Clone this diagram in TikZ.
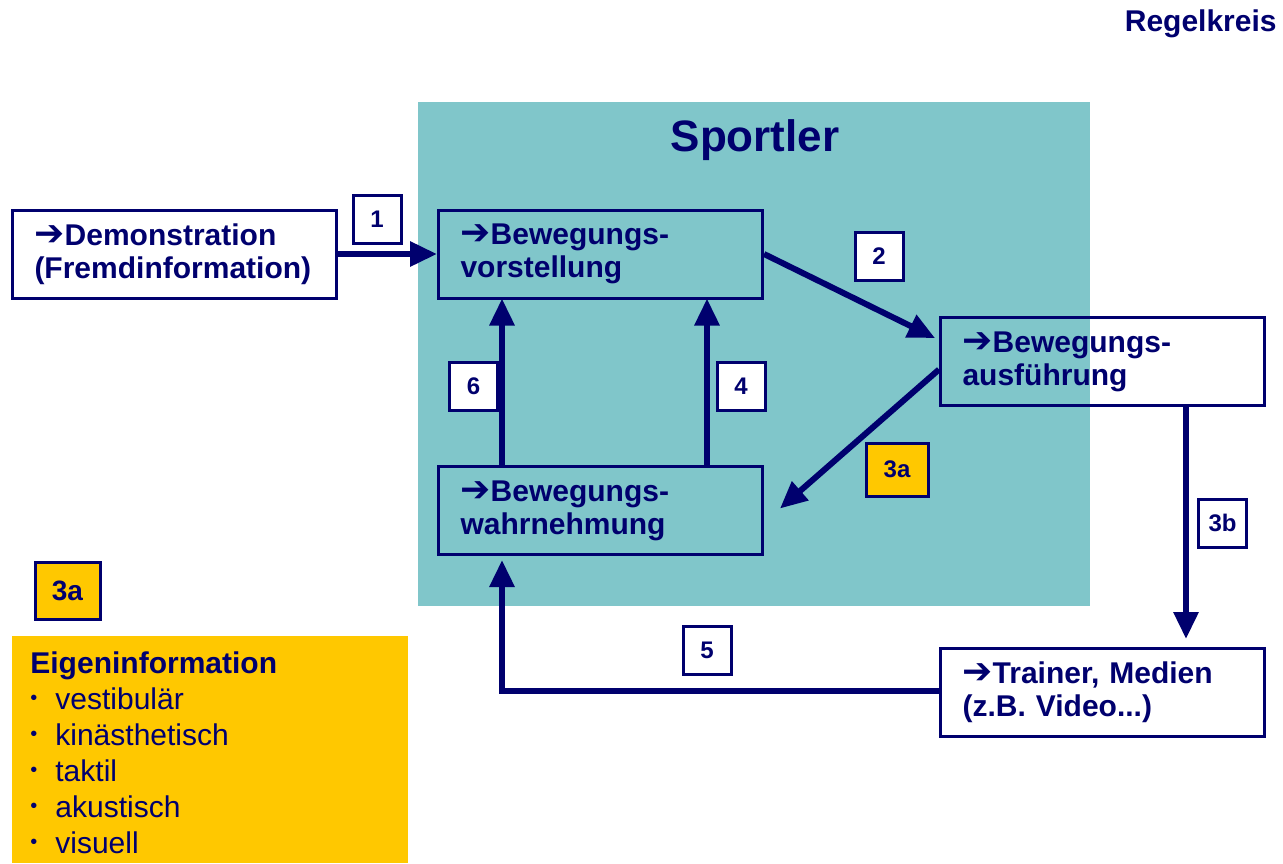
\documentclass[tikz,border=0pt]{standalone}
\usepackage{fontspec}
\setmainfont{Liberation Sans}
\newfontfamily\arrowfont{DejaVu Sans}
\usetikzlibrary{arrows.meta, calc}

\definecolor{navy}{RGB}{0,0,110}
\definecolor{teal2}{RGB}{128,198,202}
\definecolor{gold}{RGB}{255,200,0}
\newcommand{\ra}{{\arrowfont\bfseries\fontsize{18}{16.5}\selectfont ➔}}

\begin{document}
\begin{tikzpicture}[x=0.5pt, y=-0.5pt,
    stepbox/.style={draw=navy, line width=1.5pt, fill=white, text=navy, align=left,
        text width=140pt, inner xsep=11pt, minimum height=44pt,
        font=\fontsize{15}{16.5}\selectfont\bfseries},
    numbox/.style={draw=navy, line width=1.5pt, fill=white, text=navy,
        minimum size=24pt, inner sep=0pt, font=\fontsize{12}{12}\selectfont\bfseries},
    flow/.style={draw=navy, line width=3pt, -{Triangle[length=13.5pt, width=12pt]}}]
    \useasboundingbox (0,0) rectangle (1283,863);

    % Sportler area
    \fill[teal2] (418,102) rectangle (1090,606);
    \node[text=navy, font=\fontsize{22}{22}\selectfont\bfseries] (sportler) at (755,140) {Sportler};
    \node[text=navy, font=\fontsize{15}{15}\selectfont\bfseries, anchor=base east, inner sep=0pt] (title) at (1277,31) {Regelkreis};

    % Boxes
    \node[stepbox] (demo) at (174.5,254) {\ra Demonstration\\(Fremdinformation)};
    \node[stepbox, fill=teal2] (vorst) at (600.5,254) {\ra Bewegungs-\\vorstellung};
    \node[stepbox, fill=none] (ausf) at (1102.5,361.5) {\ra Bewegungs-\\ausführung};
    \node[stepbox, fill=teal2] (wahr) at (600.5,510.5) {\ra Bewegungs-\\wahrnehmung};
    \node[stepbox] (trainer) at (1102.5,692.5) {\ra Trainer, Medien\\(z.B. Video...)};

    % Arrows
    \draw[flow] (demo.east) -- (vorst.west);
    \draw[flow] (vorst.east) -- ($(ausf.north west)+(-4,22)$);
    \draw[flow] ($(ausf.west)+(0,8)$) -- ($(wahr.east)+(16,-2)$);
    \draw[flow] ($(wahr.north west)+(65,0)$) -- ($(vorst.south west)+(65,-1)$);
    \draw[flow] ($(wahr.north west)+(270,0)$) -- ($(vorst.south west)+(270,-1)$);
    \draw[flow] ($(ausf.south west)+(247,0)$) -- ($(trainer.north west)+(247,-8)$);
    \draw[flow] ($(trainer.west)+(0,-2)$) -| ($(wahr.south west)+(65,4)$);

    % Step numbers
    \node[numbox] (n1) at (377,219.5) {1};
    \node[numbox] (n2) at (879,256) {2};
    \node[numbox, fill=gold, minimum width=31pt, minimum height=26.5pt] (n3a) at (897,469.5) {3a};
    \node[numbox] (n6) at (473.5,386) {6};
    \node[numbox] (n4) at (741,386) {4};
    \node[numbox] (n3b) at (1222.5,523) {3b};
    \node[numbox] (n5) at (707,650) {5};

    % Eigeninformation
    \node[numbox, fill=gold, minimum width=32.5pt, minimum height=28.5pt,
        font=\fontsize{14}{14}\selectfont\bfseries] (key) at (67.5,590.5) {3a};
    \fill[gold] (12,636) rectangle (408,863);
    \node[text=navy, font=\fontsize{15}{15}\selectfont\bfseries, anchor=base west, inner sep=0pt] (eigen) at (30,673) {Eigeninformation};
    \foreach \txt [count=\i] in {vestibulär, kinästhetisch, taktil, akustisch, visuell} {
        \node[text=navy, font=\fontsize{15}{15}\selectfont, anchor=base west, inner sep=0pt] (item\i) at (30,{673+36*\i}) {\makebox[12.5pt][l]{\raisebox{2.5pt}{\fontsize{10}{10}\selectfont•}}\txt};
    }
\end{tikzpicture}
\end{document}
